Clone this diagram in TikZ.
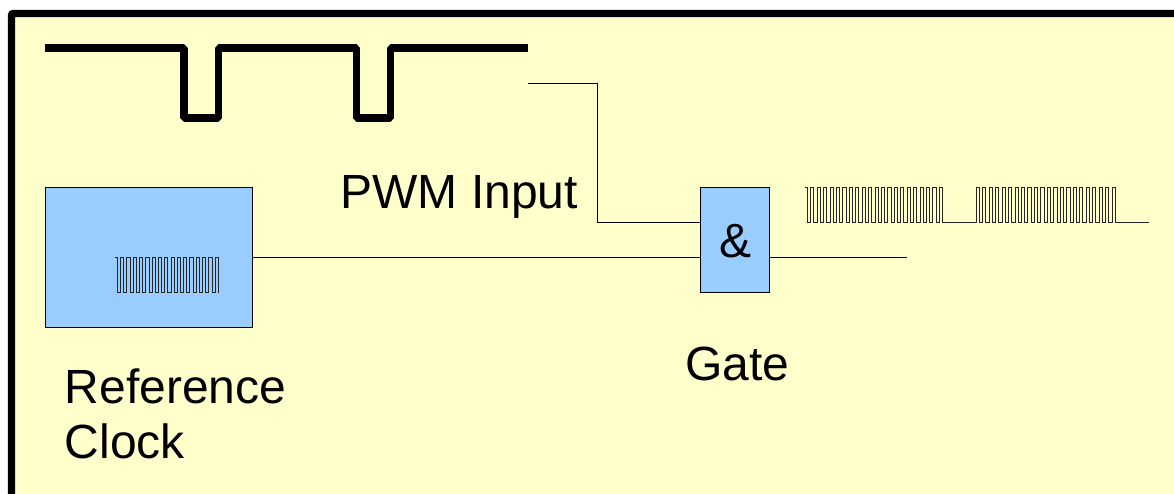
\documentclass[tikz,border=0pt]{standalone}
\usepackage{fontspec}
\setmainfont{Liberation Sans}
\tikzset{
  wire/.style={draw=black,line width=1pt,line join=miter},
  thickwave/.style={draw=black,line width=7.4pt,line join=bevel,line cap=butt},
  finewave/.style={draw=black!85,line width=1pt,line join=miter},
  bluebox/.style={draw=black,fill=boxblue,line width=0.9pt,inner sep=0pt,anchor=north west},
  label/.style={font=\fontsize{48pt}{55pt}\selectfont,inner sep=0pt,anchor=base west,align=left,text=black}
}
\definecolor{boxblue}{HTML}{99CCFF}
\definecolor{panel}{HTML}{FFFFCC}
% #1 start x, #2 period, #3 count, #4 top y, #5 bottom y : square teeth, fall first, snapped to the pixel grid
\newcommand{\teethpath}[5]{%
  \foreach \k in {1,...,#3}{%
    \pgfmathsetmacro{\xa}{round(#1+(\k-1)*#2)+0.5}%
    \pgfmathsetmacro{\xb}{round(#1+(\k-0.5)*#2)+0.5}%
    \pgfmathsetmacro{\xc}{round(#1+\k*#2)+0.5}%
    \draw[finewave] (\xa,#4) -- (\xa,#5) -- (\xb,#5) -- (\xb,#4) -- (\xc,#4);
  }%
}
\begin{document}
\begin{tikzpicture}[x=1pt,y=-1pt]
\clip (0,0) rectangle (1174,494);
\fill[white] (0,0) rectangle (1174,494);
\draw[fill=panel,draw=black,line width=7.4pt,rounded corners=2pt] (11.5,13.5) rectangle (1195,520);

% PWM input waveform
\coordinate (pa) at (45.3,48);
\coordinate (pb) at (528.3,48);
\draw[thickwave] (pa) -- (184,48) -- (184,118) -- (218.5,118) -- (218.5,48) -- (356.3,48) -- (356.3,118) -- (390.3,118) -- (390.3,48) -- (pb);

% Boxes
\node[bluebox,minimum width=207pt,minimum height=139.5pt] (refclock) at (45,187.5) {};
\node[bluebox,minimum width=69pt,minimum height=104.3pt] (gate) at (700.3,187.4) {};
\node[label,anchor=base] (amp) at (735,257.6) {\&};

% Connectors
\coordinate (pwmstart) at (528.3,83.5);
\coordinate (gatein) at (gate.west |- 0,222.5);
\coordinate (clockin) at (gate.west |- refclock.east);
\coordinate (gateoutend) at (907.4,257.3);
\coordinate (gateout) at (gate.east |- gateoutend);
\draw[wire] (pwmstart) -- (597,83.5) -- (597,222.5) -- (gatein);
\draw[wire] (refclock.east) -- (clockin);
\draw[wire] (gateout) -- (gateoutend);

% Clock waveform in reference box
\draw[finewave] (114.7,257.5) -- (117.5,257.5);
\teethpath{117}{6.3}{16}{257.5}{292.5}
\draw[finewave] (218.5,257.5) -- (218.5,292.5);

% Output waveform
\draw[finewave] (804.7,187.5) -- (807.5,187.5);
\teethpath{807}{6.43}{21}{187.5}{222.5}
\draw[finewave] (942.5,187.5) -- (942.5,222.5) -- (976.5,222.5) -- (976.5,187.5);
\draw[finewave] (976.5,187.5) -- (979.5,187.5);
\teethpath{979}{6.465}{21}{187.5}{222.5}
\draw[finewave] (1115.5,187.5) -- (1115.5,222.5) -- (1148.7,222.5);

% Labels
\node[label] (pwmlabel) at (340.3,208.6) {PWM Input};
\node[label] (gatelabel) at (685.3,380.6) {Gate};
\node[label] (reflabel) at (64.5,403.6) {Reference};
\node[label] (clocklabel) at (64.5,458.6) {Clock};
\end{tikzpicture}
\end{document}
